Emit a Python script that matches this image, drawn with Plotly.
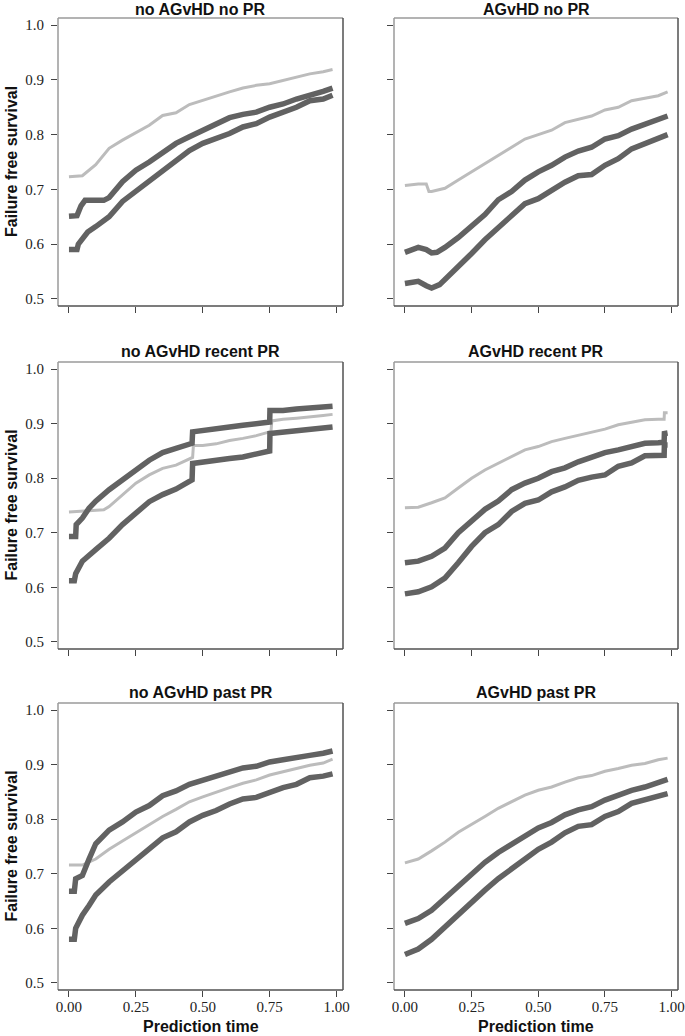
import plotly.graph_objects as go

T = [0.0, 0.05, 0.1, 0.15, 0.2, 0.25, 0.3, 0.35, 0.4, 0.45, 0.5,
     0.55, 0.6, 0.65, 0.7, 0.75, 0.8, 0.85, 0.9, 0.95, 0.985]

titles = ["no AGvHD no PR", "AGvHD no PR",
          "no AGvHD recent PR", "AGvHD recent PR",
          "no AGvHD past PR", "AGvHD past PR"]

y_ticks = [0.5, 0.6, 0.7, 0.8, 0.9, 1.0]
y_ticktext = ["0.5", "0.6", "0.7", "0.8", "0.9", "1.0"]
x_ticks = [0, 0.25, 0.5, 0.75, 1.0]
x_ticktext = ["0.00", "0.25", "0.50", "0.75", "1.00"]

# panel 1 : no AGvHD no PR
p1_light_x = T
p1_light_y = [0.723, 0.725, 0.745, 0.775, 0.79, 0.803, 0.817, 0.835, 0.84, 0.855, 0.863,
              0.87, 0.878, 0.885, 0.89, 0.893, 0.899, 0.905, 0.911, 0.915, 0.919]
p1_up_x = [0, 0.03, 0.045, 0.06, 0.13, 0.15, 0.2, 0.25, 0.3, 0.35, 0.4, 0.45, 0.5,
           0.55, 0.6, 0.65, 0.7, 0.75, 0.8, 0.85, 0.9, 0.95, 0.985]
p1_up_y = [0.651, 0.652, 0.67, 0.68, 0.68, 0.685, 0.714, 0.735, 0.75, 0.768, 0.784, 0.796,
           0.808, 0.819, 0.831, 0.837, 0.841, 0.85, 0.856, 0.865, 0.871, 0.879, 0.885]
p1_lo_x = [0, 0.03, 0.035, 0.05, 0.07, 0.1, 0.15, 0.2, 0.25, 0.3, 0.35, 0.4, 0.45, 0.5,
           0.55, 0.6, 0.65, 0.7, 0.75, 0.8, 0.85, 0.9, 0.95, 0.985]
p1_lo_y = [0.59, 0.59, 0.6, 0.608, 0.622, 0.632, 0.65, 0.678, 0.696, 0.717, 0.735, 0.753,
           0.771, 0.784, 0.793, 0.802, 0.814, 0.82, 0.832, 0.841, 0.85, 0.862, 0.865, 0.872]

# panel 2 : AGvHD no PR
p2_light_x = [0, 0.05, 0.08, 0.09, 0.1, 0.15, 0.2, 0.25, 0.3, 0.35, 0.4, 0.45, 0.5,
              0.55, 0.6, 0.65, 0.7, 0.75, 0.8, 0.85, 0.9, 0.95, 0.985]
p2_light_y = [0.707, 0.71, 0.71, 0.696, 0.696, 0.702, 0.717, 0.732, 0.747, 0.762, 0.777,
              0.792, 0.8, 0.808, 0.822, 0.828, 0.834, 0.845, 0.85, 0.862, 0.867, 0.871, 0.878]
p2_up_x = [0, 0.05, 0.08, 0.1, 0.12, 0.15, 0.2, 0.25, 0.3, 0.35, 0.4, 0.45, 0.5,
           0.55, 0.6, 0.65, 0.7, 0.75, 0.8, 0.85, 0.9, 0.95, 0.985]
p2_up_y = [0.585, 0.594, 0.59, 0.584, 0.585, 0.594, 0.612, 0.633, 0.654, 0.681, 0.696,
           0.717, 0.732, 0.744, 0.759, 0.77, 0.777, 0.792, 0.798, 0.81, 0.819, 0.828, 0.834]
p2_lo_x = [0, 0.05, 0.08, 0.1, 0.13, 0.15, 0.2, 0.25, 0.3, 0.35, 0.4, 0.45, 0.5,
           0.55, 0.6, 0.65, 0.7, 0.75, 0.8, 0.85, 0.9, 0.95, 0.985]
p2_lo_y = [0.528, 0.532, 0.524, 0.52, 0.526, 0.535, 0.56, 0.583, 0.608, 0.629, 0.65,
           0.674, 0.683, 0.698, 0.713, 0.725, 0.727, 0.744, 0.756, 0.774, 0.783, 0.794, 0.8]

# panel 3 : no AGvHD recent PR (two big jumps)
p3_light_x = [0, 0.13, 0.15, 0.2, 0.25, 0.3, 0.35, 0.4, 0.45, 0.462, 0.465, 0.5, 0.55,
              0.6, 0.65, 0.7, 0.75, 0.755, 0.758, 0.8, 0.85, 0.9, 0.95, 0.985]
p3_light_y = [0.738, 0.742, 0.748, 0.77, 0.791, 0.806, 0.818, 0.824, 0.836, 0.838, 0.86,
              0.86, 0.863, 0.869, 0.873, 0.878, 0.885, 0.886, 0.905, 0.908, 0.91, 0.912,
              0.915, 0.917]
p3_up_x = [0, 0.025, 0.027, 0.05, 0.075, 0.1, 0.15, 0.2, 0.25, 0.3, 0.35, 0.4, 0.45,
           0.46, 0.462, 0.5, 0.55, 0.6, 0.65, 0.7, 0.75, 0.751, 0.8, 0.85, 0.9, 0.95, 0.985]
p3_up_y = [0.693, 0.693, 0.715, 0.727, 0.745, 0.758, 0.779, 0.797, 0.818, 0.833, 0.847,
           0.855, 0.861, 0.864, 0.885, 0.888, 0.891, 0.894, 0.897, 0.9, 0.903, 0.924,
           0.924, 0.927, 0.929, 0.93, 0.932]
p3_lo_x = [0, 0.02, 0.025, 0.05, 0.1, 0.15, 0.2, 0.25, 0.3, 0.35, 0.4, 0.45, 0.46,
           0.462, 0.5, 0.55, 0.6, 0.65, 0.7, 0.75, 0.751, 0.8, 0.85, 0.9, 0.95, 0.985]
p3_lo_y = [0.612, 0.612, 0.625, 0.648, 0.669, 0.69, 0.715, 0.736, 0.757, 0.77, 0.78,
           0.794, 0.797, 0.827, 0.83, 0.833, 0.836, 0.839, 0.845, 0.85, 0.882, 0.885,
           0.888, 0.89, 0.892, 0.894]

# panel 4 : AGvHD recent PR (small jump at the end)
p4_x = [0.0, 0.05, 0.1, 0.15, 0.2, 0.25, 0.3, 0.35, 0.4, 0.45, 0.5, 0.55, 0.6, 0.65,
        0.7, 0.75, 0.8, 0.85, 0.9, 0.95, 0.972, 0.973, 0.985]
p4_light_y = [0.746, 0.747, 0.755, 0.764, 0.782, 0.8, 0.815, 0.827, 0.839, 0.852, 0.858,
              0.867, 0.873, 0.879, 0.884, 0.89, 0.898, 0.902, 0.907, 0.908, 0.908, 0.92, 0.92]
p4_up_y = [0.645, 0.648, 0.657, 0.672, 0.7, 0.722, 0.743, 0.758, 0.779, 0.791, 0.8,
           0.812, 0.819, 0.83, 0.838, 0.847, 0.852, 0.859, 0.864, 0.865, 0.866, 0.882, 0.883]
p4_lo_y = [0.588, 0.592, 0.601, 0.617, 0.645, 0.675, 0.7, 0.715, 0.739, 0.754, 0.76,
           0.775, 0.784, 0.796, 0.802, 0.806, 0.822, 0.828, 0.841, 0.842, 0.842, 0.861, 0.861]

# panel 5 : no AGvHD past PR
p5_light_y = [0.716, 0.716, 0.727, 0.745, 0.76, 0.775, 0.79, 0.805, 0.818, 0.832, 0.841,
              0.85, 0.858, 0.866, 0.872, 0.881, 0.887, 0.893, 0.899, 0.903, 0.91]
p5_dark_x = [0, 0.02, 0.025, 0.05, 0.075, 0.1, 0.15, 0.2, 0.25, 0.3, 0.35, 0.4, 0.45,
             0.5, 0.55, 0.6, 0.65, 0.7, 0.75, 0.8, 0.85, 0.9, 0.95, 0.985]
p5_up_y = [0.668, 0.668, 0.691, 0.697, 0.727, 0.755, 0.78, 0.795, 0.813, 0.825, 0.843,
           0.852, 0.864, 0.872, 0.879, 0.888, 0.894, 0.897, 0.905, 0.909, 0.912, 0.917,
           0.921, 0.925]
p5_lo_y = [0.58, 0.58, 0.6, 0.624, 0.642, 0.661, 0.685, 0.706, 0.727, 0.745, 0.766,
           0.777, 0.795, 0.807, 0.816, 0.828, 0.837, 0.84, 0.849, 0.858, 0.864, 0.876,
           0.879, 0.883]

# panel 6 : AGvHD past PR
p6_light_y = [0.72, 0.727, 0.742, 0.758, 0.776, 0.79, 0.805, 0.82, 0.832, 0.844, 0.853,
              0.859, 0.868, 0.876, 0.88, 0.888, 0.893, 0.899, 0.902, 0.909, 0.912]
p6_up_y = [0.609, 0.618, 0.633, 0.655, 0.676, 0.7, 0.721, 0.739, 0.754, 0.769, 0.784,
           0.794, 0.808, 0.817, 0.823, 0.835, 0.844, 0.853, 0.859, 0.866, 0.873]
p6_lo_y = [0.552, 0.562, 0.58, 0.603, 0.627, 0.648, 0.67, 0.691, 0.709, 0.727, 0.745,
           0.758, 0.775, 0.787, 0.79, 0.805, 0.814, 0.829, 0.835, 0.841, 0.847]

panels = [
    [(p1_light_x, p1_light_y), (p1_up_x, p1_up_y), (p1_lo_x, p1_lo_y)],
    [(p2_light_x, p2_light_y), (p2_up_x, p2_up_y), (p2_lo_x, p2_lo_y)],
    [(p3_light_x, p3_light_y), (p3_up_x, p3_up_y), (p3_lo_x, p3_lo_y)],
    [(p4_x, p4_light_y), (p4_x, p4_up_y), (p4_x, p4_lo_y)],
    [(T, p5_light_y), (p5_dark_x, p5_up_y), (p5_dark_x, p5_lo_y)],
    [(T, p6_light_y), (T, p6_up_y), (T, p6_lo_y)],
]

W, H = 685, 1036
col_px = [(58, 343), (394, 678)]
row_px = [(18, 306), (362, 649), (703, 990)]

LIGHT = "#bcbcbc"
DARK = "#626262"
serif = "Liberation Serif, DejaVu Serif, serif"
sans = "Liberation Sans, Arial, sans-serif"

fig = go.Figure()
layout = {}
shapes = []
annotations = []

for i, curves in enumerate(panels):
    r, c = divmod(i, 2)
    n = "" if i == 0 else str(i + 1)
    xa, ya = "x" + n, "y" + n
    for k, (xs, ys) in enumerate(curves):
        light = k == 0
        fig.add_trace(go.Scatter(
            x=xs, y=ys, mode="lines", xaxis=xa, yaxis=ya, showlegend=False,
            hoverinfo="skip",
            line=dict(color=LIGHT if light else DARK, width=3 if light else 5.5),
        ))

    x0, x1 = col_px[c]
    y0, y1 = row_px[r]
    layout["xaxis" + n] = dict(
        domain=[x0 / W, x1 / W], anchor=ya, range=[-0.041, 1.024],
        tickvals=x_ticks, ticktext=x_ticktext, showticklabels=(r == 2),
        ticks="outside", ticklen=6, tickcolor="#444", tickwidth=1,
        ticklabelstandoff=-3, automargin=False,
        showgrid=False, zeroline=False, showline=False,
        tickfont=dict(family=serif, size=15, color="#222"),
    )
    layout["yaxis" + n] = dict(
        domain=[1 - y1 / H, 1 - y0 / H], anchor=xa, range=[0.487, 1.013],
        tickvals=y_ticks, ticktext=y_ticktext, showticklabels=(c == 0),
        ticks="outside", ticklen=6, tickcolor="#444", tickwidth=1,
        ticklabelstandoff=4, automargin=False,
        showgrid=False, zeroline=False, showline=False,
        tickfont=dict(family=serif, size=15, color="#222"),
    )

    # box: lighter on left/top, darker on right/bottom
    for (ax0, ay0, ax1, ay1, col) in [(0, 0, 0, 1, "#9a9a9a"), (0, 1, 1, 1, "#9a9a9a"),
                                      (1, 0, 1, 1, "#505050"), (0, 0, 1, 0, "#505050")]:
        shapes.append(dict(type="line", xref=xa + " domain", yref=ya + " domain",
                           x0=ax0, y0=ay0, x1=ax1, y1=ay1,
                           line=dict(color=col, width=1.5)))

    if r == 0:
        ty, tanchor = 1.0, "top"
    else:
        ty, tanchor = 1 - (y0 - 11) / H, "middle"
    annotations.append(dict(
        text="<b>" + titles[i] + "</b>", x=(x0 + x1) / 2 / W, y=ty,
        xref="paper", yref="paper", showarrow=False, xanchor="center", yanchor=tanchor,
        borderpad=0, font=dict(family=sans, size=16, color="#111"),
    ))

    if c == 0:
        annotations.append(dict(
            text="<b>Failure free survival</b>", x=11 / W, y=1 - (y0 + y1) / 2 / H,
            xref="paper", yref="paper", showarrow=False, textangle=-90,
            xanchor="center", yanchor="middle",
            borderpad=0, font=dict(family=sans, size=16, color="#111"),
        ))
    if r == 2:
        annotations.append(dict(
            text="<b>Prediction time</b>", x=(x0 + x1) / 2 / W, y=0,
            xref="paper", yref="paper", showarrow=False,
            xanchor="center", yanchor="bottom",
            borderpad=0, font=dict(family=sans, size=16, color="#111"),
        ))

fig.update_layout(
    template="none",
    width=W, height=H, margin=dict(l=0, r=0, t=0, b=0, autoexpand=False),
    plot_bgcolor="white", paper_bgcolor="white", hovermode=False,
    shapes=shapes, annotations=annotations, **layout,
)

# drop the default 8px page margin so the figure fills the window exactly
fig.write_html("out.html", config={"displayModeBar": False},
               post_script="document.body.style.margin='0px';")
